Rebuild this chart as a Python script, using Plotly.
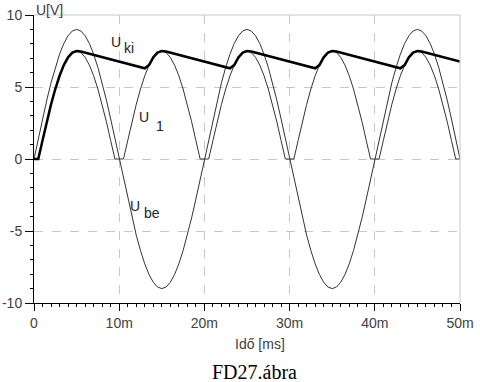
import plotly.graph_objects as go

# time samples in ms (0.5 ms step)
t_ms = [i * 0.5 for i in range(101)]

U_be = [0, 1.41, 2.78, 4.09, 5.29, 6.36, 7.28, 8.02, 8.56, 8.89, 9.00, 8.89, 8.56, 8.02, 7.28, 6.36, 5.29, 4.09, 2.78, 1.41, 0,
        -1.41, -2.78, -4.09, -5.29, -6.36, -7.28, -8.02, -8.56, -8.89, -9.00, -8.89, -8.56, -8.02, -7.28, -6.36, -5.29, -4.09, -2.78, -1.41, 0,
        1.41, 2.78, 4.09, 5.29, 6.36, 7.28, 8.02, 8.56, 8.89, 9.00, 8.89, 8.56, 8.02, 7.28, 6.36, 5.29, 4.09, 2.78, 1.41, 0,
        -1.41, -2.78, -4.09, -5.29, -6.36, -7.28, -8.02, -8.56, -8.89, -9.00, -8.89, -8.56, -8.02, -7.28, -6.36, -5.29, -4.09, -2.78, -1.41, 0,
        1.41, 2.78, 4.09, 5.29, 6.36, 7.28, 8.02, 8.56, 8.89, 9.00, 8.89, 8.56, 8.02, 7.28, 6.36, 5.29, 4.09, 2.78, 1.41, 0]

U_1 = [0, 0, 1.28, 2.59, 3.79, 4.86, 5.78, 6.52, 7.06, 7.39, 7.50, 7.39, 7.06, 6.52, 5.78, 4.86, 3.79, 2.59, 1.28, 0, 0,
       0, 1.28, 2.59, 3.79, 4.86, 5.78, 6.52, 7.06, 7.39, 7.50, 7.39, 7.06, 6.52, 5.78, 4.86, 3.79, 2.59, 1.28, 0, 0,
       0, 1.28, 2.59, 3.79, 4.86, 5.78, 6.52, 7.06, 7.39, 7.50, 7.39, 7.06, 6.52, 5.78, 4.86, 3.79, 2.59, 1.28, 0, 0,
       0, 1.28, 2.59, 3.79, 4.86, 5.78, 6.52, 7.06, 7.39, 7.50, 7.39, 7.06, 6.52, 5.78, 4.86, 3.79, 2.59, 1.28, 0, 0,
       0, 1.28, 2.59, 3.79, 4.86, 5.78, 6.52, 7.06, 7.39, 7.50, 7.39, 7.06, 6.52, 5.78, 4.86, 3.79, 2.59, 1.28, 0, 0]

U_ki = [0, 0, 1.28, 2.59, 3.79, 4.86, 5.78, 6.52, 7.06, 7.39, 7.50, 7.47, 7.39, 7.31, 7.23, 7.16, 7.08, 7.00, 6.92, 6.84,
        6.77, 6.69, 6.61, 6.53, 6.45, 6.38, 6.30,
        6.52, 7.06, 7.39, 7.50, 7.47, 7.39, 7.31, 7.23, 7.16, 7.08, 7.00, 6.92, 6.84, 6.77, 6.69, 6.61, 6.53, 6.45, 6.38, 6.30,
        6.52, 7.06, 7.39, 7.50, 7.47, 7.39, 7.31, 7.23, 7.16, 7.08, 7.00, 6.92, 6.84, 6.77, 6.69, 6.61, 6.53, 6.45, 6.38, 6.30,
        6.52, 7.06, 7.39, 7.50, 7.47, 7.39, 7.31, 7.23, 7.16, 7.08, 7.00, 6.92, 6.84, 6.77, 6.69, 6.61, 6.53, 6.45, 6.38, 6.30,
        6.52, 7.06, 7.39, 7.50, 7.47, 7.39, 7.31, 7.23, 7.16, 7.08, 7.00, 6.92, 6.84, 6.77]

x_tickvals = [0, 10, 20, 30, 40, 50]
x_ticktext = ["0", "10m", "20m", "30m", "40m", "50m"]
y_tickvals = [-10, -5, 0, 5, 10]
y_ticktext = ["-10", "-5", "0", "5", "10"]

fig = go.Figure()
fig.add_trace(go.Scatter(x=t_ms, y=U_be, mode="lines", line=dict(color="#333333", width=1)))
fig.add_trace(go.Scatter(x=t_ms, y=U_1, mode="lines", line=dict(color="#333333", width=1)))
fig.add_trace(go.Scatter(x=t_ms, y=U_ki, mode="lines", line=dict(color="#000000", width=2.5)))

tickfont = dict(family="Liberation Sans, Arial, sans-serif", size=14, color="#404040")
fig.update_layout(
    width=480, height=382,
    margin=dict(l=34, r=20, t=15, b=79),
    paper_bgcolor="white", plot_bgcolor="white",
    showlegend=False,
    xaxis=dict(range=[0, 50], tickvals=x_tickvals, ticktext=x_ticktext,
               showline=True, linecolor="black", linewidth=1,
               ticks="outside", ticklen=7, tickcolor="black",
               showgrid=True, gridcolor="#c8c8c8", griddash="dash", gridwidth=1,
               zeroline=False, tickfont=tickfont, automargin=False,
               minor=dict(dtick=1, ticks="outside", ticklen=3, tickcolor="black", showgrid=False)),
    yaxis=dict(range=[-10, 10], tickvals=y_tickvals, ticktext=y_ticktext,
               showline=True, linecolor="black", linewidth=1,
               ticks="outside", ticklen=8, tickcolor="black",
               showgrid=True, gridcolor="#c8c8c8", griddash="dash", gridwidth=1,
               zeroline=False, tickfont=tickfont, automargin=False,
               minor=dict(dtick=1, ticks="outside", ticklen=3, tickcolor="black", showgrid=False)),
)

# solid light frame on top and right
fig.add_shape(type="line", xref="paper", yref="paper", x0=0, x1=1, y0=1, y1=1,
              line=dict(color="#c8c8c8", width=1))
fig.add_shape(type="line", xref="paper", yref="paper", x0=1, x1=1, y0=0, y1=1,
              line=dict(color="#c8c8c8", width=1))

lab = dict(family="Liberation Sans, Arial, sans-serif", size=14, color="#222222")
def add_label(x, y, txt, size=14):
    fig.add_annotation(x=x, y=y, xref="x", yref="y", text=txt, showarrow=False,
                       font=dict(family=lab["family"], size=size, color=lab["color"]))

add_label(9.6, 8.1, "U")
add_label(11.1, 7.7, "ki")
add_label(12.9, 2.9, "U")
add_label(14.8, 2.3, "1")
add_label(11.8, -3.25, "U")
add_label(13.9, -3.75, "be")

fig.add_annotation(x=0, y=1, xref="paper", yref="paper", xanchor="left", yanchor="bottom",
                   xshift=0, yshift=-5, text="U[V]", showarrow=False, font=tickfont)
fig.add_annotation(x=0.53, y=0, xref="paper", yref="paper", yanchor="top", yshift=-31,
                   text="Idő [ms]", showarrow=False, font=tickfont)
fig.add_annotation(x=0.518, y=0, xref="paper", yref="paper", yanchor="top", yshift=-56,
                   text="FD27.ábra", showarrow=False,
                   font=dict(family="Liberation Serif, Times New Roman, serif", size=20, color="black"))

fig.write_html("out.html", config={"displayModeBar": False},
               post_script="document.body.style.margin='0';document.body.style.overflow='hidden';")
